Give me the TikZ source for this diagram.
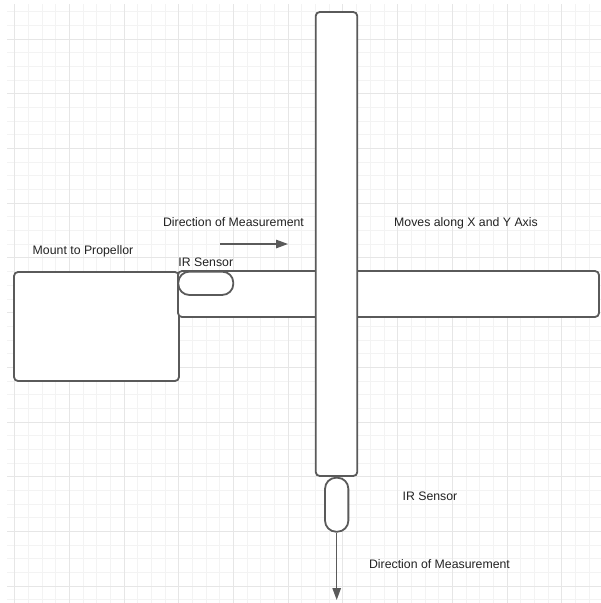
\documentclass[tikz,border=0pt]{standalone}
\usepackage{fontspec}
\setmainfont{Liberation Sans}
\usetikzlibrary{arrows.meta,positioning}
\definecolor{edgegray}{HTML}{5A5A5A}
\definecolor{textgray}{HTML}{222222}
\definecolor{minorgrid}{HTML}{F3F3F3}
\definecolor{majorgrid}{HTML}{E6E6E6}

\begin{document}
\begin{tikzpicture}[
  x=1pt, y=-1pt,
  part/.style={draw=edgegray, fill=white, line width=1.8pt, rounded corners=4pt, inner sep=0pt},
  sensor/.style={part, rounded corners=11pt},
  lbl/.style={font=\fontsize{12.3}{14}\selectfont, text=textgray, inner sep=0pt, anchor=base},
  arr/.style={-{Triangle[length=12pt, width=8.5pt]}, draw=edgegray, line width=1.3pt},
]
\useasboundingbox (0,0) rectangle (601,603);
% background grid
\foreach \i in {0,...,42}
  \draw[minorgrid, line width=0.7pt] (14.5+13.68*\i,4) -- (14.5+13.68*\i,603);
\foreach \j in {0,...,43}
  \draw[minorgrid, line width=0.7pt] (7,11.6+13.68*\j) -- (601,11.6+13.68*\j);
\foreach \i in {0,4,...,40}
  \draw[majorgrid, line width=0.7pt] (14.5+13.68*\i,4) -- (14.5+13.68*\i,603);
\foreach \j in {2,6,...,42}
  \draw[majorgrid, line width=0.7pt] (7,11.6+13.68*\j) -- (601,11.6+13.68*\j);

% parts
\node[part, minimum width=165pt, minimum height=109pt] (mount) at (96.5,326.5) {};
\node[part, minimum width=421pt, minimum height=46pt] (hbar) at (388.5,294) {};
\node[sensor, minimum width=55pt, minimum height=23.3pt] (irtop) at (205.8,283.3) {};
\node[part, minimum width=41.6pt, minimum height=464pt] (vbar) at (336.5,244) {};
\node[sensor, minimum width=23.3pt, minimum height=54pt] (irlow) at (336.7,504.7) {};

% directions
\coordinate (dirA) at (220,244);
\coordinate (dirB) at (288,244);
\coordinate (dirend) at (336.7,600);
\draw[arr] (dirA) -- (dirB);
\draw[arr] (irlow.south) -- (dirend);

% labels
\node[lbl, above=3.5pt of irtop, anchor=south] (irtoplbl) {IR Sensor};
\node[lbl] (dirtoplbl) at (233.5,226.4) {Direction of Measurement};
\node[lbl] (mountlbl) at (83,254.4) {Mount to Propellor};
\node[lbl] (moveslbl) at (466,226.4) {Moves along X and Y Axis};
\node[lbl] (irlowlbl) at (430,500.4) {IR Sensor};
\node[lbl] (dirlowlbl) at (439.5,568.4) {Direction of Measurement};
\end{tikzpicture}
\end{document}
